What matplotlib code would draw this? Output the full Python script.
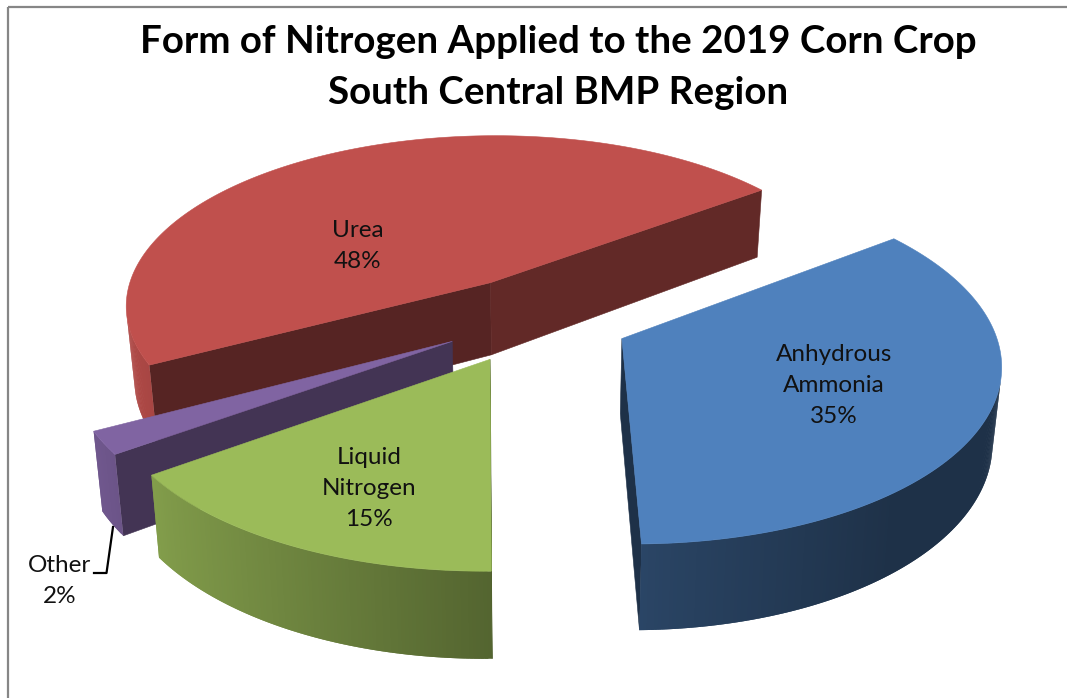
import numpy as np
import matplotlib
matplotlib.use("Agg")
import matplotlib.pyplot as plt
from matplotlib.patches import Polygon, Rectangle

# data, labels show these rounded
labels = ["Anhydrous\nAmmonia", "Liquid\nNitrogen", "Other", "Urea"]
values = [35.0, 15.4, 2.1, 47.5]
colors = ["#4F81BD", "#9BBB59", "#8064A2", "#C0504D"]
title = "Form of Nitrogen Applied to the 2019 Corn Crop\nSouth Central BMP Region"

# 3d pie look, all in pixels of the 1067x698 figure
start_angle = 53
explode = [0.24, 0.24, 0.24, 0.24]
nudge = [(0, 1), (-10, 2), (-12, 0), (-4, -2)]
cut_shade = [(0.38, 0.38), (0.5, 0.5), (0.52, 0.52), (0.45, 0.51)]
cx, cy = 541, 319
a, b = 370, 174
k = 0.128
h = 74
q = 0.98
draw_order = [3, 2, 1, 0]
label_pos = [(834, 385.5), (369, 488.5), (59.5, 581), (358, 246)]

plt.rcParams["font.family"] = ["Lato", "DejaVu Sans"]


def project(u, v, off, bottom=False):
    s = 1 / (1 - k * v)
    x = cx + a * u * s
    y = cy + b * v * s
    if bottom:
        x = cx + (x - cx) * q
        y = y + h * s
    return np.array([x + off[0], y + off[1]])


def area(pts):
    x, y = np.array(pts).T
    return np.sum(x * np.roll(y, -1) - np.roll(x, -1) * y)


def wall_shade(theta):
    return np.interp(np.sin(theta), [-1, -0.77, 0.07, 0.64, 1], [0.93, 0.82, 0.52, 0.38, 0.38])


def face(ax, pts, col, shade, lw=0.4):
    rgb = np.array(matplotlib.colors.to_rgb(col)) * shade
    ax.add_patch(Polygon(pts, closed=True, facecolor=rgb, edgecolor=rgb, linewidth=lw))


def draw_slice(ax, idx, t0, t1):
    col = colors[idx]
    off = nudge[idx]
    mid = (t0 + t1) / 2
    ou, ov = explode[idx] * np.sin(mid), -explode[idx] * np.cos(mid)
    thetas = np.linspace(t0, t1, max(int(np.degrees(t1 - t0)), 2) * 2 + 1)
    us = ou + np.sin(thetas)
    vs = ov - np.cos(thetas)
    top = [project(u, v, off) for u, v in zip(us, vs)]
    bot = [project(u, v, off, True) for u, v in zip(us, vs)]
    apex = project(ou, ov, off)
    apex_b = project(ou, ov, off, True)

    # cut faces, only the ones that look at the viewer
    q0 = [apex, top[0], bot[0], apex_b]
    q1 = [top[-1], apex, apex_b, bot[-1]]
    if area(q0) < 0:
        face(ax, q0, col, cut_shade[idx][0])
    if area(q1) < 0:
        face(ax, q1, col, cut_shade[idx][1])

    # outer wall, each quad reaches under the next one so no seams show
    n = len(thetas)
    for i in range(n - 1):
        quad = [top[i], top[i + 1], bot[i + 1], bot[i]]
        if area(quad) < 0:
            j = min(i + 2, n - 1)
            wide = [top[i], top[i + 1], top[j], bot[j], bot[i + 1], bot[i]]
            face(ax, wide, col, wall_shade((thetas[i] + thetas[i + 1]) / 2), lw=0)

    face(ax, [apex] + top, col, 1.0)


fig = plt.figure(figsize=(10.67, 6.98), dpi=100)
ax = fig.add_axes([0, 0, 1, 1])
ax.set_xlim(0, 1067)
ax.set_ylim(698, 0)
ax.axis("off")

# chart frame runs off the crop on the right and bottom
ax.add_patch(Rectangle((8, 7), 1200, 800, fill=False, edgecolor="#868686", linewidth=1.6))

fractions = np.array(values) / sum(values)
edges = np.radians(start_angle + 360 * np.concatenate([[0], np.cumsum(fractions)]))
for idx in draw_order:
    draw_slice(ax, idx, edges[idx], edges[idx + 1])

for name, val, pos in zip(labels, values, label_pos):
    ax.text(pos[0], pos[1], f"{name}\n{val:.0f}%", ha="center", va="center", fontsize=17.5,
            color="#111111", linespacing=1.6)

# leader for the small slice
ax.plot([113, 106.5, 94], [527, 573, 573], color="black", linewidth=1.6)

ax.text(558, 67.5, title, ha="center", va="center", fontsize=27.7, fontweight="bold",
        color="black", linespacing=1.58)

fig.savefig("out.png", dpi=100)
